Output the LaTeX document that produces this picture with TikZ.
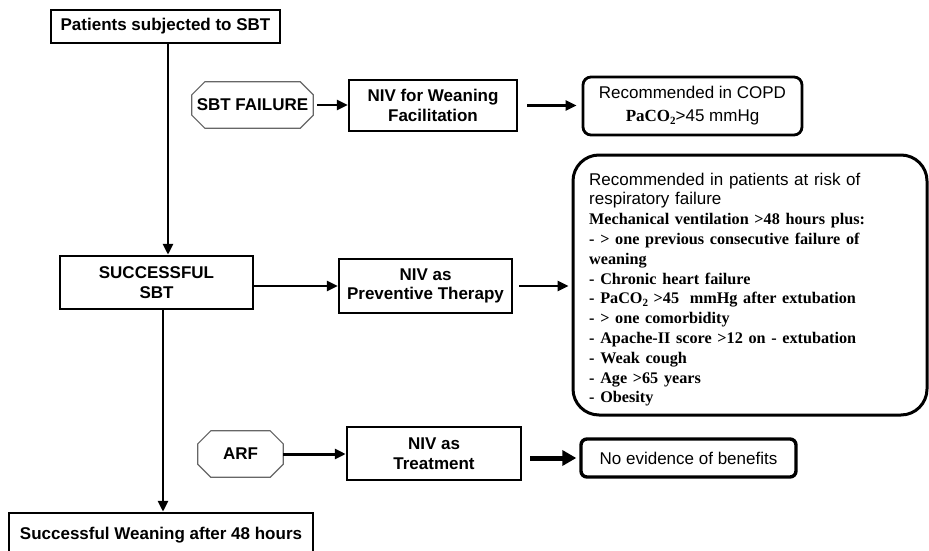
\documentclass[tikz,border=0pt]{standalone}
\usepackage{fontspec}
\setmainfont{Liberation Sans}
\newfontfamily\tnr{Liberation Serif}
\usetikzlibrary{arrows.meta,calc}
\newcommand\subtwo{\raisebox{-0.35ex}{\fontsize{11pt}{11pt}\selectfont 2}}
\newcommand\octpath[2]{\draw[octo] ($(#1.north west)+(#2,0)$) -- ($(#1.north east)+(-#2,0)$) -- ($(#1.north east)+(0,#2)$) -- ($(#1.south east)+(0,-#2)$) -- ($(#1.south east)+(-#2,0)$) -- ($(#1.south west)+(#2,0)$) -- ($(#1.south west)+(0,-#2)$) -- ($(#1.north west)+(0,#2)$) -- cycle;}
\newcommand\tb{\tnr\bfseries\fontsize{16.2pt}{19.8pt}\selectfont}
\begin{document}
\begin{tikzpicture}[x=1pt,y=-1pt,
  every node/.style={font=\fontsize{17pt}{19.8pt}\selectfont, inner sep=0pt, align=center},
  boldtxt/.style={font=\bfseries\fontsize{17pt}{19.8pt}\selectfont},
  sq/.style={draw, line width=2.5pt, boldtxt},
  octo/.style={draw=black!60, line width=1.2pt},
  arr/.style={line width=2.5pt, -{Triangle[length=11pt,width=10pt]}},
  bigarr/.style={line width=5pt, -{Triangle[length=14pt,width=15pt]}},
]
\useasboundingbox (0,0) rectangle (929,551);
\clip (0,0) rectangle (929,551);

\node[sq, minimum width=229pt, minimum height=33pt] (pat) at (165.5,26.5) {Patients subjected to SBT};

\node[boldtxt, minimum width=121pt, minimum height=46pt] (sf) at (252.5,105) {SBT FAILURE};
\octpath{sf}{13}
\node[sq, minimum width=168pt, minimum height=51pt] (nivw) at (433,105.5) {NIV for Weaning\\Facilitation};
\node[draw, line width=2.8pt, rounded corners=8pt, minimum width=219pt, minimum height=58pt] (copd) at (692.5,106) {Recommended in COPD\\[3pt]{\tnr\bfseries PaCO\subtwo}>45 mmHg};

\node[sq, minimum width=193pt, minimum height=53pt] (succ) at (156.5,282.5) {SUCCESSFUL\\SBT};
\node[sq, minimum width=173pt, minimum height=54pt] (nivp) at (425.5,286) {NIV as\\Preventive Therapy};
\node[draw, line width=3pt, rounded corners=26pt, minimum width=354pt, minimum height=260pt] (big) at (750,285) {};
\node[anchor=north west, align=left, text width=335pt] (bigtxt) at (589,172.5) {Recommended in patients at risk of\\
respiratory failure\\
{\tb Mechanical ventilation >48 hours plus:}\\
{\tb - > one previous consecutive failure of}\\
{\tb weaning}\\
{\tb - Chronic heart failure}\\
{\tb - PaCO\subtwo\ >45\hspace{5pt} mmHg after extubation}\\
{\tb - > one comorbidity}\\
{\tb - Apache-II score >12 on - extubation}\\
{\tb - Weak cough}\\
{\tb - Age >65 years}\\
{\tb - Obesity}};

\node[boldtxt, minimum width=85pt, minimum height=46pt] (arf) at (240.5,454) {ARF};
\octpath{arf}{13}
\node[sq, minimum width=174pt, minimum height=53pt] (nivt) at (434,453.5) {NIV as\\Treatment};
\node[draw, line width=3.4pt, rounded corners=6pt, minimum width=215pt, minimum height=38pt] (noev) at (688.5,458) {No evidence of benefits};

\node[sq, minimum width=304pt, minimum height=44pt] (wean) at (161,535) {Successful Weaning after 48 hours};

% connectors
\draw[arr, line width=2.8pt] ([xshift=2.5pt]pat.south) -- ([xshift=2.5pt]pat.south |- succ.north);
\draw[arr, line width=2.8pt] ([xshift=6.5pt]succ.south) -- ([xshift=6.5pt]succ.south |- wean.north);
\draw[arr, shorten <=4pt] (sf.east) -- (sf.east -| nivw.west);
\draw[arr, shorten <=9pt, shorten >=5pt] (nivw.east) -- (nivw.east -| copd.west);
\draw[arr] (succ.east |- nivp.west) -- (nivp.west);
\draw[arr, shorten <=6pt, shorten >=3pt] (nivp.east) -- (nivp.east -| big.west);
\draw[arr, line width=3pt] (arf.east) -- (arf.east -| nivt.west);
\draw[bigarr, shorten <=8pt, shorten >=3pt] (nivt.east |- noev.west) -- (noev.west);
\end{tikzpicture}
\end{document}
